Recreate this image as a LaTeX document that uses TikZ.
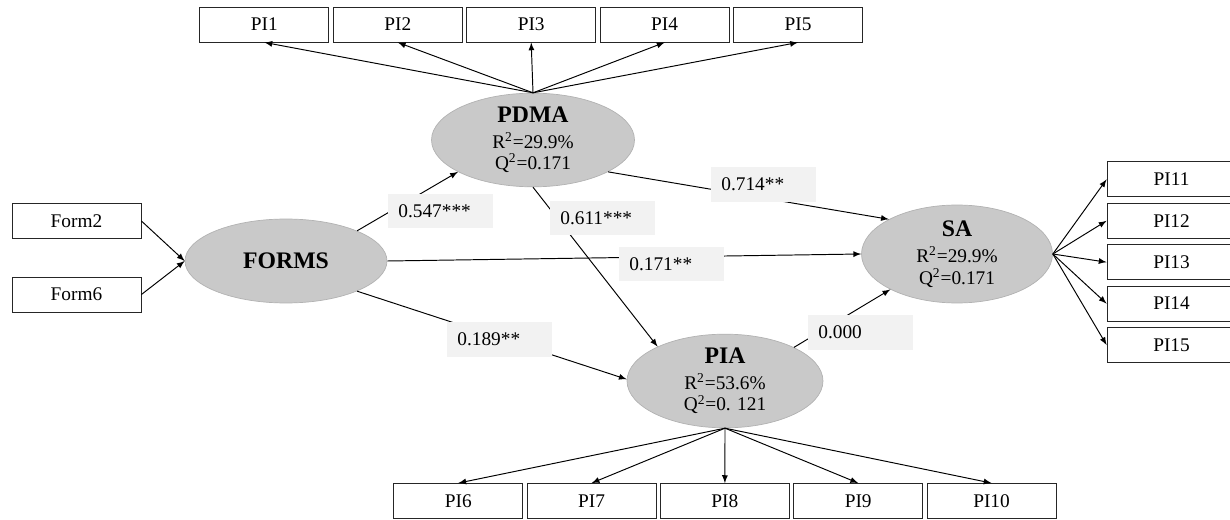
\documentclass[tikz,border=0pt]{standalone}
\usepackage{fontspec}
\setmainfont{Liberation Serif}
\usetikzlibrary{arrows,shapes.geometric}

\begin{document}
\begin{tikzpicture}[x=0.02cm,y=-0.02cm,>=latex]
\tikzstyle{every node}=[font=\fontsize{11}{13}\selectfont]
\tikzstyle{ind}=[draw=black!85,line width=0.5pt,minimum width=2.58cm,minimum height=0.7cm,inner sep=0pt]
\tikzstyle{lat}=[ellipse,draw=black!30,fill=black!21,align=center,inner sep=0pt]
\tikzstyle{coef}=[fill=black!5,text width=1.7cm,align=left,inner xsep=0.2cm,minimum height=0.7cm,anchor=west]
\tikzstyle{link}=[->,line width=0.55pt]
\newcommand{\ttl}[1]{{\fontsize{13.5}{15}\selectfont\bfseries #1}}
\newcommand{\sq}{\textsuperscript{2}}
\useasboundingbox (0,0) rectangle (1230,520);
% latent variables
\node (forms) [lat,minimum width=4.04cm,minimum height=1.68cm] at (286,261) {\ttl{FORMS}};
\node (pdma) [lat,minimum width=4.06cm,minimum height=1.78cm] at (533,140) {\ttl{PDMA}\\[2pt]R\sq=29.9\%\\[-1pt] Q\sq=0.171};
\node (sa) [lat,minimum width=3.82cm,minimum height=1.96cm] at (957,254) {\ttl{SA}\\[2pt]R\sq=29.9\%\\[-1pt]Q\sq=0.171};
\node (pia) [lat,minimum width=3.92cm,minimum height=1.84cm] at (725,381) {\ttl{PIA}\\[2pt]R\sq=53.6\%\\[-1pt]Q\sq=0. 121};
% indicators
\node (form2) [ind] at (76.5,221) {Form2};
\node (form6) [ind] at (76.5,294.5) {Form6};
\foreach \i in {1,...,5}
  \node (pi\i) [ind] at ({131+133.4*\i},24.5) {PI\i};
\foreach \i in {6,...,10}
  \node (pi\i) [ind] at ({325+133.3*(\i-5)},501) {PI\i};
\foreach \i in {11,...,15}
  \node (pi\i) [ind] at (1171.5,{138+41.4*(\i-10)}) {PI\i};
% loadings
\draw[link] (form2.east) -- (forms.west);
\draw[link] (form6.east) -- (forms.west);
\foreach \i in {1,...,5}
  \draw[link] (pdma.north) -- (pi\i.south);
\foreach \i in {6,...,10}
  \draw[link] (pia.south) -- (pi\i.north);
\foreach \i in {11,...,15}
  \draw[link] (sa.east) -- (pi\i.west);
% structural paths
\draw[link] (forms.23) -- (pdma.203);
\draw[link] (forms.east) -- (sa.west);
\draw[link] (forms.337) -- (pia.179);
\draw[link] (pdma.337) -- (sa.153);
\draw[link] (pdma.south) -- (pia.153);
\draw[link] (pia.26) -- (sa.208);
% coefficients
\node (c1) [coef] at (388,211) {0.547***};
\node (c2) [coef] at (550,218) {0.611***};
\node (c3) [coef] at (711,184.5) {0.714**};
\node (c4) [coef] at (619,264) {0.171**};
\node (c5) [coef] at (447,339.5) {0.189**};
\node (c6) [coef] at (808,332.5) {0.000};
\end{tikzpicture}
\end{document}
